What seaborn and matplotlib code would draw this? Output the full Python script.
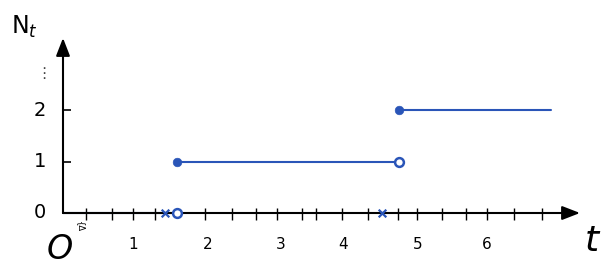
import matplotlib
matplotlib.use("Agg")
import matplotlib.pyplot as plt
import seaborn as sns
import pandas as pd
import numpy as np

sns.set_theme(style="white")
plt.rcParams['font.family'] = ['DejaVu Sans']

# ---- data (t units, N units) ----
jump_times = [1.63, 4.80]          # where N_t jumps
t_end = 6.97                       # end of the drawn path
levels = [0, 1, 2]                 # N_t levels
cross_times = [1.46, 4.56]         # event marks (x) on the axis
x_tick_labels = ["1", "2", "3", "4", "5", "6"]
x_label_pos = [1.0, 2.06, 3.11, 4.0, 5.06, 6.06]
minor_ticks = [0.33, 0.70, 1.0, 1.31, 2.03, 2.41, 2.76, 3.06, 3.41, 3.61,
               3.99, 4.36, 4.79, 5.06, 5.41, 5.76, 6.06, 6.44, 6.84]
y_tick_labels = ["0", "1", "2"]
y_ticks = [0, 1, 2]

BLUE = "#2a55b8"
W, H = 616, 274
fig = plt.figure(figsize=(W / 100, H / 100), dpi=100)
ax = fig.add_axes([0, 0, 1, 1])
px_x, px_y = 70.0, 51.5
x0, y0 = 63, 213
ax.set_xlim(-x0 / px_x, (W - x0) / px_x)
ax.set_ylim((y0 - H) / px_y, y0 / px_y)
ax.axis("off")

# axes with arrows
x_arrow_end = (580 - x0) / px_x
y_arrow_end = (y0 - 38) / px_y
ax.annotate("", xy=(x_arrow_end, 0), xytext=(0, 0),
            arrowprops=dict(arrowstyle="-|>,head_length=0.9,head_width=0.35",
                            color="black", lw=1.5, shrinkA=0, shrinkB=0))
ax.annotate("", xy=(0, y_arrow_end), xytext=(0, 0),
            arrowprops=dict(arrowstyle="-|>,head_length=0.9,head_width=0.35",
                            color="black", lw=1.5, shrinkA=0, shrinkB=0))

# minor ticks on x axis
ax.vlines(minor_ticks, -0.13, 0.1, color="black", lw=1.0)
# y ticks
ax.hlines(y_ticks[1:], 0, 0.11, color="black", lw=1.2)

# step path segments
starts = [0] + jump_times
ends = jump_times + [t_end]
rows = []
for i, (s, e) in enumerate(zip(starts, ends)):
    rows.append(dict(t=s, N=levels[i], seg=i))
    rows.append(dict(t=e, N=levels[i], seg=i))
df = pd.DataFrame(rows)
sns.lineplot(data=df, x="t", y="N", units="seg", estimator=None,
             color=BLUE, lw=1.5, ax=ax, legend=False)

# filled dots at jump starts
filled = pd.DataFrame(dict(t=jump_times, N=levels[1:]))
sns.scatterplot(data=filled, x="t", y="N", color=BLUE, s=38,
                edgecolor=BLUE, ax=ax, zorder=5, legend=False)
# open circles at jump ends
opened = pd.DataFrame(dict(t=jump_times, N=levels[:-1]))
sns.scatterplot(data=opened, x="t", y="N", facecolor="white", s=40,
                edgecolor=BLUE, linewidth=1.8, ax=ax, zorder=5, legend=False)
# crosses
crosses = pd.DataFrame(dict(t=cross_times, N=[0] * len(cross_times)))
sns.scatterplot(data=crosses, x="t", y="N", marker="x", color=BLUE, s=30,
                linewidth=1.6, ax=ax, zorder=5, legend=False)

# tick labels
for p, lab in zip(x_label_pos, x_tick_labels):
    ax.text(p, -0.62, lab, ha="center", va="center", fontsize=11, color="black")
for p, lab in zip(y_ticks, y_tick_labels):
    ax.text(-0.33, p, lab, ha="center", va="center", fontsize=14, color="black")

# annotations
ax.text(-0.27, 2.7, "⋮", ha="center", va="center", fontsize=11, color="#444444")
ax.text(-0.55, 3.62, r"N$_t$", ha="center", va="center", fontsize=17,
        color="black")
ax.text(-0.04, -0.7, "O", ha="center", va="center", fontsize=24,
        style="italic", color="black")
ax.text(0.24, -0.27, "{Δ", ha="center", va="center", fontsize=6,
        rotation=-90, color="black")
ax.text(7.56, -0.55, "t", ha="center", va="center", fontsize=26,
        style="italic", color="black")

fig.savefig("out.png", dpi=100)
